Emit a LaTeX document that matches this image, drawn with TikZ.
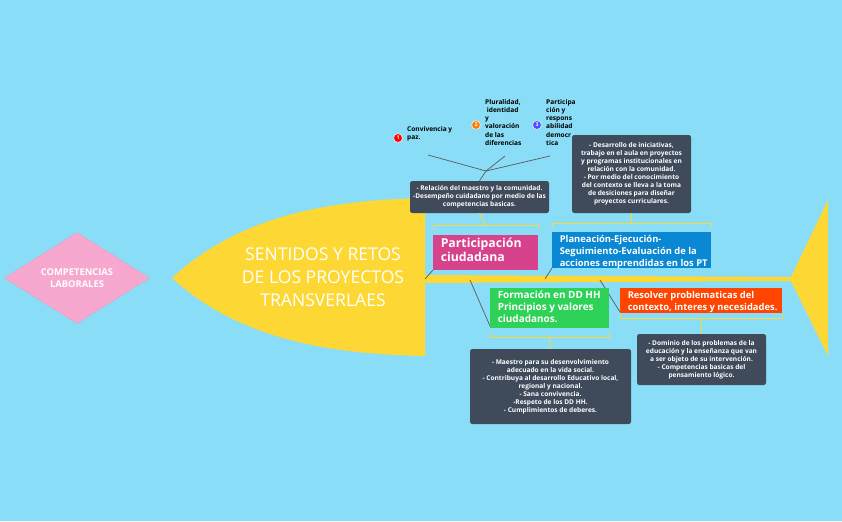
\documentclass[tikz,border=0pt]{standalone}
\usepackage{fontspec}
\setmainfont{Open Sans}
\usetikzlibrary{shapes.geometric}
\definecolor{sky}{HTML}{8ADDF6}
\definecolor{fish}{HTML}{FDD835}
\definecolor{slate}{HTML}{3F4A5A}
\definecolor{rosa}{HTML}{F7A8CF}
\definecolor{magenta}{HTML}{D6428B}
\definecolor{azul}{HTML}{0A88D4}
\definecolor{verde}{HTML}{2ED256}
\definecolor{naranja}{HTML}{FF4500}
\tikzset{
  note/.style={fill=slate, text=white, rounded corners=2pt, font=\fontsize{5.6}{6.8}\selectfont\bfseries, align=center, inner sep=2pt},
  topic/.style={text=white, font=\fontsize{8}{10}\selectfont\bfseries, align=left, inner sep=3pt, anchor=north west},
  bracket/.style={fish, line width=0.8pt},
  link/.style={gray!70!black, line width=0.6pt},
  item/.style={font=\fontsize{5.6}{7}\selectfont\bfseries, align=left, anchor=north west, inner sep=0pt},
  badge/.style={circle, fill=#1, draw=white, line width=0.4pt, text=white, inner sep=0pt, minimum size=7.5pt, font=\fontsize{4.5}{4.5}\selectfont\bfseries}
}
\begin{document}
\begin{tikzpicture}[x=0.03cm, y=-0.03cm]
\fill[sky] (0,0) rectangle (842,521);
\useasboundingbox (0,0) rectangle (842,521);

% fish body
\fill[fish] (172,278) .. controls (240,215) and (330,200) .. (425,198) -- (425,356) .. controls (330,354) and (240,340) .. (172,278) -- cycle;
\fill[fish] (425,275) -- (795,277) -- (795,281) -- (425,283) -- cycle;
\fill[fish] (790,279) -- (828,200) -- (828,356) -- cycle;
\node[text=white, font=\fontsize{15}{19.5}\selectfont, align=center] (head) at (323,277) {SENTIDOS Y RETOS\\DE LOS PROYECTOS\\TRANSVERLAES};

% left diamond
\node[diamond, draw=magenta!50, fill=rosa, minimum width=145*0.03cm, minimum height=90*0.03cm, inner sep=0pt, text=white, font=\fontsize{8}{10}\selectfont\bfseries, align=center] (comp) at (77,278) {COMPETENCIAS\\LABORALES};

% links from spine
\coordinate (s1) at (425,279);
\coordinate (s2) at (470,280);
\coordinate (s3) at (545,279);
\coordinate (s4) at (600,280);
\draw[link] (s1) -- (433,270);
\draw[link] (s2) -- (490,326);
\draw[link] (s3) -- (552,268);
\draw[link] (s4) -- (620,312);

% topic boxes
\fill[magenta] (433,235) rectangle (538,270);
\node[topic, font=\fontsize{10.5}{12}\selectfont\bfseries] (part) at (437,234) {Participación\\ciudadana};
\fill[azul] (552,232) rectangle (711,268);
\node[topic] (plan) at (556,232) {Planeación-Ejecución-\\Seguimiento-Evaluación de la\\acciones emprendidas en los PT};
\fill[verde] (490,288) rectangle (609,328);
\node[topic, font=\fontsize{8.5}{10.5}\selectfont\bfseries] (form) at (494,287) {Formación en DD HH\\Principios y valores\\ciudadanos.};
\fill[naranja] (620,288) rectangle (782,313);
\node[topic] (reso) at (624,288) {Resolver problematicas del\\contexto, interes y necesidades.};

% brackets
\draw[bracket] (433,229) -- (433,225) -- (538,225) -- (538,229);
\draw[bracket] (552,227) -- (552,223) -- (711,223) -- (711,227);
\draw[bracket] (490,333) -- (490,337) -- (609,337) -- (609,333);
\draw[bracket] (620,314) -- (620,318) -- (782,318) -- (782,314);

% notes
\node[note, minimum width=139*0.03cm, minimum height=32*0.03cm] (n1) at (479.5,197) {- Relación del maestro y la comunidad.\\-Desempeño cuidadano por medio de las\\competencias basicas.};
\node[note, minimum width=119*0.03cm, minimum height=78*0.03cm] (n2) at (631.5,174) {- Desarrollo de iniciativas,\\trabajo en el aula en proyectos\\y programas institucionales en\\relación con la comunidad.\\- Por medio del conocimiento\\del contexto se lleva a la toma\\de desiciones para diseñar\\proyectos curriculares.};
\node[note, minimum width=161*0.03cm, minimum height=75*0.03cm] (n3) at (550.5,386.5) {- Maestro para su desenvolvimiento\\adecuado en la vida social.\\- Contribuya al desarrollo Educativo local,\\regional y nacional.\\- Sana convivencia.\\-Respeto de los DD HH.\\- Cumplimientos de deberes.};
\node[note, minimum width=129*0.03cm, minimum height=51*0.03cm] (n4) at (701.5,359.5) {- Dominio de los problemas de la\\educación y la enseñanza que van\\a ser objeto de su intervención.\\- Competencias basicas del\\pensamiento lógico.};
\draw[bracket] (485.5,225) -- (n1.south);
\draw[bracket] (631.5,223) -- (n2.south);
\draw[bracket] (549.5,337) -- (n3.north);
\draw[bracket] (701,318) -- (n4.north);

% top items
\coordinate (j) at (486,171);
\draw[link] (n1.north) -- (j);
\draw[link] (j) -- (428,155);
\draw[link] (j) -- (505,156);
\draw[link] (j) -- (550,156);
\node[badge=red] (b1) at (398,138) {1};
\node[badge=orange] (b2) at (476,125) {2};
\node[badge=blue!70] (b3) at (537,125) {3};
\node[item] (i1) at (407,126) {Convivencia y\\paz.};
\node[item] (i2) at (485,99) {Pluralidad,\\\ identidad\\y\\valoración\\de las\\diferencias};
\node[item] (i3) at (546,99) {Participa\\ción y\\respons\\abilidad\\democr\\tica};
\end{tikzpicture}
\end{document}
